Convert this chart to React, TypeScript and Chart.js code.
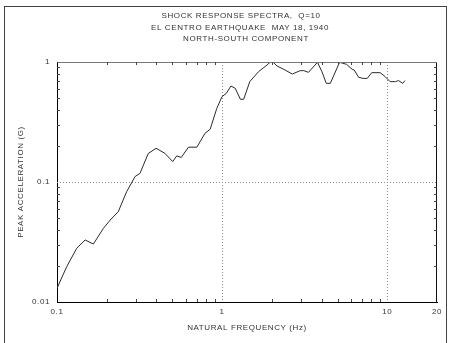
import React, { useEffect, useRef } from 'react';
import { Chart, registerables } from 'chart.js';

Chart.register(...registerables);

const titleLines = ['SHOCK RESPONSE SPECTRA,  Q=10', 'EL CENTRO EARTHQUAKE  MAY 18, 1940', 'NORTH-SOUTH COMPONENT'];
const xAxisTitle = 'NATURAL FREQUENCY (Hz)';
const yAxisTitle = 'PEAK ACCELERATION (G)';

const frequencies = [
  0.1, 0.1145, 0.1316, 0.148, 0.166, 0.191, 0.21, 0.235, 0.264, 0.297, 0.318, 0.357, 0.398, 0.451,
  0.502, 0.531, 0.565, 0.625, 0.703, 0.788, 0.846, 0.928, 0.998, 1.06, 1.13, 1.2, 1.29, 1.35, 1.47,
  1.66, 1.87, 1.96, 2.03, 2.15, 2.36, 2.66, 2.97, 3.12, 3.33, 3.78, 4.02, 4.27, 4.52, 5.14, 5.66,
  6.13, 6.3, 6.71, 7.14, 7.56, 8.05, 9.05, 9.71, 10.4, 11.2, 11.7, 12.4, 12.8,
];
const accelerations = [
  0.013, 0.0197, 0.028, 0.0329, 0.0304, 0.0411, 0.0482, 0.0566, 0.083, 0.111, 0.118, 0.173, 0.191, 0.173,
  0.148, 0.165, 0.16, 0.195, 0.195, 0.255, 0.275, 0.411, 0.514, 0.548, 0.631, 0.604, 0.489, 0.489, 0.686,
  0.83, 0.944, 1.0, 1.0, 0.926, 0.869, 0.794, 0.847, 0.847, 0.82, 0.994, 0.83, 0.664, 0.664, 0.994, 0.957,
  0.869, 0.858, 0.745, 0.73, 0.73, 0.815, 0.815, 0.755, 0.686, 0.686, 0.7, 0.664, 0.7,
];

const xTickValues = [0.1, 1, 10, 20];
const yTickValues = [0.01, 0.1, 1];
const xGridValues = [1, 10];
const yGridValues = [0.1];
const xMinorValues = [0.2, 0.3, 0.4, 0.5, 0.6, 0.7, 0.8, 0.9, 2, 3, 4, 5, 6, 7, 8, 9];
const yMinorValues = [0.02, 0.03, 0.04, 0.05, 0.06, 0.07, 0.08, 0.09, 0.2, 0.3, 0.4, 0.5, 0.6, 0.7, 0.8, 0.9];

const FONT = '"Liberation Sans", Arial, sans-serif';
const TEXT = '#333333';

const decorPlugin = {
  id: 'decor',
  beforeDraw(chart: any) {
    const ctx = chart.ctx;
    (ctx as any).letterSpacing = '0.6px';
    ctx.save();
    ctx.strokeStyle = '#444';
    ctx.lineWidth = 1;
    ctx.strokeRect(4.5, 6.5, 442, 345);
    ctx.restore();
  },
  beforeDatasetsDraw(chart: any) {
    const { ctx, chartArea: a, scales } = chart;
    ctx.save();
    ctx.strokeStyle = '#8a8a8a';
    ctx.lineWidth = 1;
    ctx.setLineDash([1, 2]);
    xGridValues.forEach((v) => {
      const px = Math.round(scales.x.getPixelForValue(v)) + 0.5;
      ctx.beginPath();
      ctx.moveTo(px, a.top);
      ctx.lineTo(px, a.bottom);
      ctx.stroke();
    });
    yGridValues.forEach((v) => {
      const py = Math.round(scales.y.getPixelForValue(v)) + 0.5;
      ctx.beginPath();
      ctx.moveTo(a.left, py);
      ctx.lineTo(a.right, py);
      ctx.stroke();
    });
    ctx.restore();
  },
  afterDatasetsDraw(chart: any) {
    const { ctx, chartArea: a, scales } = chart;
    const L = Math.round(a.left) + 0.5;
    const R = Math.round(a.right) - 0.5;
    const T = Math.round(a.top) + 0.5;
    const B = Math.round(a.bottom) - 0.5;
    ctx.save();
    ctx.lineWidth = 1;
    ctx.strokeStyle = '#777';
    ctx.beginPath();
    ctx.moveTo(L, T);
    ctx.lineTo(R, T);
    ctx.stroke();
    ctx.strokeStyle = '#111';
    ctx.beginPath();
    ctx.moveTo(R, T);
    ctx.lineTo(R, B + 1);
    ctx.stroke();
    ctx.strokeStyle = '#444';
    xMinorValues.forEach((v) => {
      const px = Math.round(scales.x.getPixelForValue(v)) + 0.5;
      ctx.beginPath();
      ctx.moveTo(px, a.top);
      ctx.lineTo(px, a.top + 3);
      ctx.moveTo(px, a.bottom);
      ctx.lineTo(px, a.bottom - 3);
      ctx.stroke();
    });
    yMinorValues.forEach((v) => {
      const py = Math.round(scales.y.getPixelForValue(v)) + 0.5;
      ctx.beginPath();
      ctx.moveTo(a.left, py);
      ctx.lineTo(a.left + 3, py);
      ctx.moveTo(a.right, py);
      ctx.lineTo(a.right - 3, py);
      ctx.stroke();
    });
    ctx.restore();
  },
  afterDraw(chart: any) {
    const { ctx, chartArea: a } = chart;
    const cx = (a.left + a.right) / 2;
    const offsets = [
      { dx: -6, dy: -46 },
      { dx: -7, dy: -34.5 },
      { dx: -1, dy: -23 },
    ];
    ctx.save();
    ctx.fillStyle = TEXT;
    ctx.font = `8px ${FONT}`;
    ctx.textAlign = 'center';
    ctx.textBaseline = 'middle';
    titleLines.forEach((t, i) => {
      ctx.fillText(t, cx + offsets[i].dx, a.top + offsets[i].dy);
    });
    ctx.restore();
  },
};

export default function App() {
  const ref = useRef<HTMLCanvasElement | null>(null);
  useEffect(() => {
    document.body.style.margin = '0';
    const canvas = ref.current!;
    const chart = new Chart(canvas, {
      type: 'line',
      data: {
        datasets: [
          {
            data: frequencies.map((f, i) => ({ x: f, y: accelerations[i] })),
            borderColor: '#2a2a2a',
            borderWidth: 1,
            pointRadius: 0,
            tension: 0,
            fill: false,
          },
        ],
      },
      options: {
        responsive: false,
        animation: false,
        devicePixelRatio: 1,
        layout: { padding: { left: 0, right: 15, top: 62, bottom: 0 } },
        plugins: { legend: { display: false }, tooltip: { enabled: false }, title: { display: false } },
        scales: {
          x: {
            type: 'logarithmic',
            position: 'bottom',
            min: 0.1,
            max: 20,
            afterBuildTicks: (s: any) => {
              s.ticks = xTickValues.map((v) => ({ value: v }));
            },
            afterFit: (s: any) => {
              s.height = 41;
            },
            grid: { display: false, drawTicks: false },
            border: { display: true, color: '#000', width: 1 },
            ticks: {
              color: TEXT,
              font: { family: FONT, size: 8 },
              padding: 5,
              autoSkip: false,
              maxRotation: 0,
              callback: (v: any) => String(v),
            },
            title: {
              display: true,
              text: xAxisTitle,
              color: TEXT,
              font: { family: FONT, size: 8 },
              padding: { top: 0, bottom: 10 },
            },
          },
          y: {
            type: 'logarithmic',
            position: 'left',
            min: 0.01,
            max: 1,
            afterBuildTicks: (s: any) => {
              s.ticks = yTickValues.map((v) => ({ value: v }));
            },
            afterFit: (s: any) => {
              s.width = 57;
            },
            grid: { display: false, drawTicks: false },
            border: { display: true, color: '#000', width: 1 },
            ticks: {
              color: TEXT,
              font: { family: FONT, size: 8 },
              padding: 7,
              autoSkip: false,
              callback: (v: any) => String(v),
            },
            title: {
              display: true,
              text: yAxisTitle,
              color: TEXT,
              font: { family: FONT, size: 8 },
              padding: { top: 16, bottom: 0 },
            },
          },
        },
      },
      plugins: [decorPlugin],
    } as any);
    return () => chart.destroy();
  }, []);
  return (
    <div style={{ width: 452, height: 343, background: '#fff' }}>
      <canvas ref={ref} width={452} height={343} style={{ display: 'block' }} />
    </div>
  );
}
